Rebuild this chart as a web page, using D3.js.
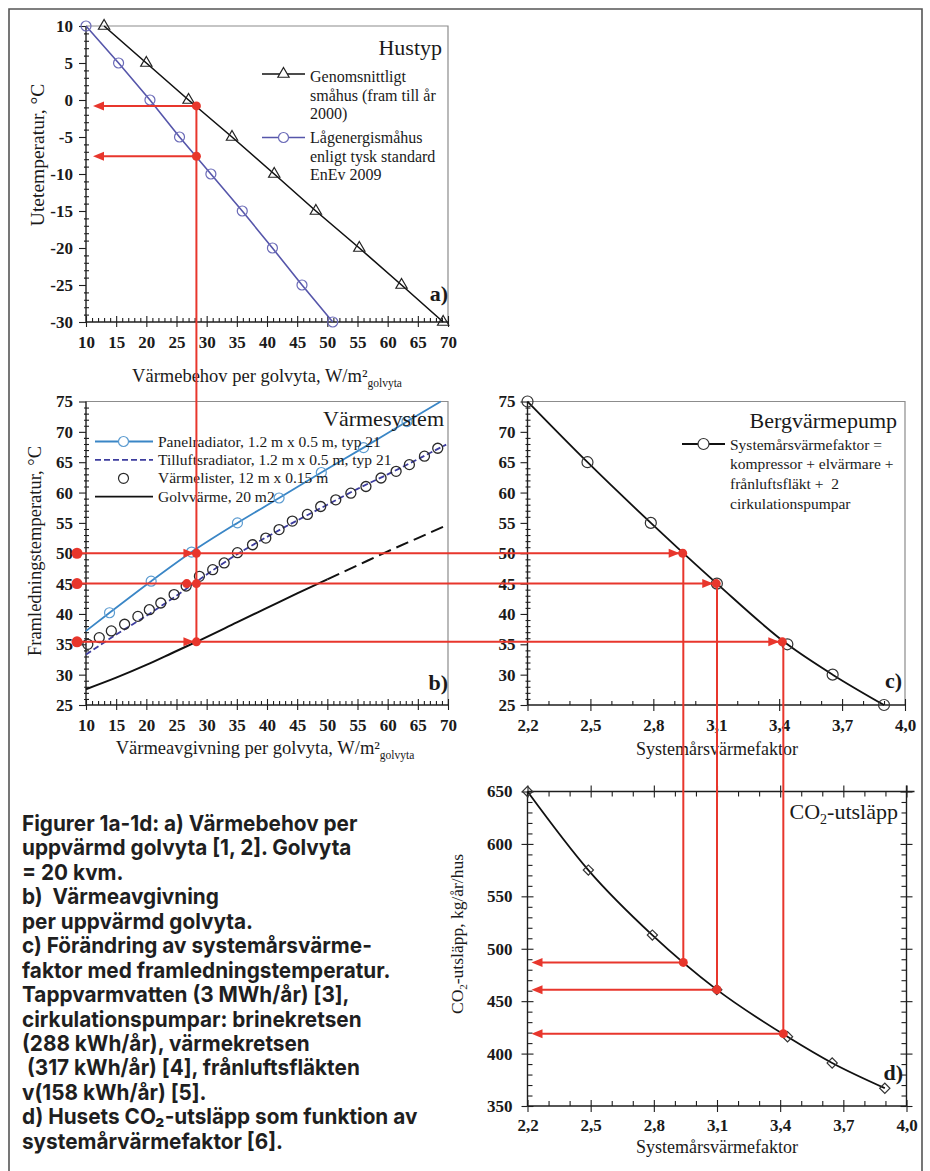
<!DOCTYPE html>
<html><head><meta charset="utf-8">
<script src="https://cdn.jsdelivr.net/npm/d3@7"></script>
<style>body{margin:0;background:#fff}svg{display:block}text{white-space:pre}</style>
</head><body>
<script>
// ================= DATA =================
// Panel a – Hustyp
const aXTicks = [10,15,20,25,30,35,40,45,50,55,60,65,70];
const aYTicks = [10,5,0,-5,-10,-15,-20,-25,-30];
const smahusX = [13.0,20.0,27.0,34.2,41.2,48.1,55.3,62.3,69.2];
const smahusY = [10,5,0,-5,-10,-15,-20,-25,-30];
const lagenergiX = [10.0,15.4,20.6,25.5,30.7,35.9,40.9,45.8,50.9];
const lagenergiY = [10,5,0,-5,-10,-15,-20,-25,-30];
// Panel b – Värmesystem
const bXTicks = [10,15,20,25,30,35,40,45,50,55,60,65,70];
const bYTicks = [25,30,35,40,45,50,55,60,65,70,75];
const panelX = [10,13.9,20.8,27.5,35.1,42.0,49.0,56.0,63.2,68.8];
const panelY = [37.2,40.2,45.4,50.2,55.0,59.1,63.3,67.4,71.7,75.0];
const tilluftX = [10,15,20,25,30,35,40,45,50,55,60,65,69.7];
const tilluftY = [33.3,36.6,39.7,43.0,46.5,49.8,52.7,55.4,58.0,60.6,63.0,65.5,67.9];
const listerX = [10.3,12.2,14.2,16.4,18.6,20.5,22.4,24.6,26.6,28.8,31.0,32.9,35.1,37.6,39.8,42.0,44.2,46.7,48.9,51.4,53.9,56.4,58.9,61.4,63.6,66.1,68.3];
const listerY = [35.0,36.1,37.2,38.3,39.6,40.7,41.8,43.2,44.6,46.2,47.3,48.4,50.1,51.4,52.5,53.9,55.3,56.4,57.7,58.8,59.9,61.0,62.4,63.5,64.6,66.0,67.3];
const golvX = [10,15,20,25,28.3,35,40,45,50,55,60,65,70];
const golvY = [27.6,29.5,31.6,33.9,35.4,38.6,41.0,43.4,45.7,48.0,50.3,52.5,54.7];
const golvSolidUntil = 50;
// Panel c – Bergvärmepump
const cXTicks = [2.2,2.5,2.8,3.1,3.4,3.7,4.0];
const cXTickLabels = ["2,2","2,5","2,8","3,1","3,4","3,7","4,0"];
const cYTicks = [25,30,35,40,45,50,55,60,65,70,75];
const spfX = [2.2,2.486,2.788,3.103,3.439,3.655,3.9];
const spfY = [75,65,55,45,35,30,25];
// Panel d – CO2-utsläpp
const dYTicks = [350,400,450,500,550,600,650];
const co2X = [2.2,2.489,2.793,3.099,3.435,3.647,3.897];
const co2Y = [650,575,513,461,416,391,367];
// Red reading example
const exHeatDemand = 28.3;
const exOutdoorTemp = [-0.8,-7.6];
const exSupplyTemp = [50,45,35.4];
const exTilluftHit = 26.7;
const exSPF = [2.94,3.10,3.415];
const exCO2 = [487,461,419];

const captionLines = [
 "Figurer 1a-1d: a) Värmebehov per",
 "uppvärmd golvyta [1, 2]. Golvyta",
 "= 20 kvm.",
 "b)  Värmeavgivning",
 "per uppvärmd golvyta.",
 "c) Förändring av systemårsvärme-",
 "faktor med framledningstemperatur.",
 "Tappvarmvatten (3 MWh/år) [3],",
 "cirkulationspumpar: brinekretsen",
 "(288 kWh/år), värmekretsen",
 " (317 kWh/år) [4], frånluftsfläkten",
 "v(158 kWh/år) [5].",
 "d) Husets CO₂-utsläpp som funktion av",
 "systemårvärmefaktor [6]."
];

// ================= DRAWING =================
const W = 930, H = 1171;
const RED = "#e8362c";
const serif = "'Liberation Serif','Times New Roman',serif";
const svg = d3.select("body").append("svg").attr("width", W).attr("height", H);
svg.append("rect").attr("width", W).attr("height", H).attr("fill", "#fff");
svg.append("path").attr("d", `M9,${H}V9H922V${H}`).attr("fill","none").attr("stroke","#555").attr("stroke-width",1.6);

const xAB = d3.scaleLinear().domain([10,70]).range([86,448]);
const yA = d3.scaleLinear().domain([-30,10]).range([322,26]);
const yB = d3.scaleLinear().domain([25,75]).range([705,401.5]);
const xC = d3.scaleLinear().domain([2.2,4.0]).range([527.5,905]);
const yC = yB;
const xD = d3.scaleLinear().domain([2.2,4.0]).range([527.5,906.5]);
const yD = d3.scaleLinear().domain([350,650]).range([1106,791.5]);

function axisSet(kind, scale, pos, majors, minors, o) {
  const maker = {left:d3.axisLeft,right:d3.axisRight,top:d3.axisTop,bottom:d3.axisBottom}[kind];
  const vert = (kind === "left" || kind === "right");
  const g = svg.append("g").attr("transform", vert ? `translate(${pos},0)` : `translate(0,${pos})`);
  const add = (vals, size, fmt, pad) => {
    const s = g.append("g").call(maker(scale).tickValues(vals).tickSize(size).tickSizeOuter(0)
      .tickPadding(pad || 3).tickFormat(fmt || (() => "")));
    s.attr("font-family", null).attr("font-size", null);
    s.select(".domain").remove();
    s.selectAll("line").attr("stroke", o.col || "#1e1e1e").attr("stroke-width", 1.1);
    return s;
  };
  if (minors) { if (o.minOut) add(minors, o.minOut); if (o.minIn) add(minors, -o.minIn); }
  if (o.majIn) add(majors, -o.majIn);
  const lab = add(majors, o.majOut || 0, o.fmt, o.pad);
  lab.selectAll("text").attr("font-family", serif).attr("font-size", o.fs || 17)
    .attr("font-weight", "bold").attr("fill", "#1a1a1a");
  const r = scale.range();
  const ext = o.ext || 0;
  if (vert) g.append("line").attr("y1", r[0]).attr("y2", r[1] - ext).attr("stroke", o.col || "#1e1e1e").attr("stroke-width", o.sw || 1.4);
  else g.append("line").attr("x1", r[0]).attr("x2", r[1] + ext).attr("stroke", o.col || "#1e1e1e").attr("stroke-width", o.sw || 1.4);
  return g;
}
function frame(xs, ys) {
  const [x0, x1] = xs.range(), [y0, y1] = ys.range();
  svg.append("path").attr("d", `M${x0},${y1}H${x1}V${y0}`).attr("fill","none")
    .attr("stroke","#8c8c8c").attr("stroke-width",1.2);
}
function txt(x, y, s, o) {
  const t = svg.append("text").attr("x", x).attr("y", y).text(s)
    .attr("font-family", serif).attr("font-size", o.fs || 16).attr("fill", o.fill || "#1a1a1a")
    .attr("text-anchor", o.anchor || "start").attr("font-weight", o.fw || "normal");
  if (o.rot) t.attr("transform", `rotate(-90,${x},${y})`);
  return t;
}
const numFmt = d => String(d);
const minorsAB = d3.range(10, 70.001, 1).filter(v => v % 5 !== 0);

// ---------- Panel a ----------
frame(xAB, yA);
axisSet("left", yA, xAB.range()[0], aYTicks, d3.range(-30, 10.001, 1).filter(v => v % 5 !== 0),
  {majOut: 7, minOut: 2, minIn: 3, pad: 6, fmt: numFmt});
axisSet("bottom", xAB, yA.range()[0], aXTicks, minorsAB, {majOut: 5, majIn: 6, minIn: 4, pad: 9, fmt: numFmt});

const lineA = d3.line().x(d => xAB(d[0])).y(d => yA(d[1]));
svg.append("path").datum(d3.zip(smahusX, smahusY)).attr("d", lineA).attr("fill","none").attr("stroke","#111").attr("stroke-width",1.6);
svg.append("path").datum(d3.zip(lagenergiX, lagenergiY)).attr("d", lineA).attr("fill","none").attr("stroke","#5656aa").attr("stroke-width",1.6);
const tri = d3.symbol(d3.symbolTriangle, 55);
svg.append("g").selectAll("path").data(d3.zip(smahusX, smahusY)).join("path")
  .attr("d", tri).attr("transform", d => `translate(${xAB(d[0])},${yA(d[1])})`)
  .attr("fill","none").attr("stroke","#222").attr("stroke-width",1.2);
svg.append("g").selectAll("circle").data(d3.zip(lagenergiX, lagenergiY)).join("circle")
  .attr("cx", d => xAB(d[0])).attr("cy", d => yA(d[1])).attr("r", 5)
  .attr("fill","none").attr("stroke","#6b6bb8").attr("stroke-width",1.2);

txt(442, 55, "Hustyp", {fs: 22, anchor: "end"});
svg.append("line").attr("x1",262).attr("x2",305).attr("y1",74).attr("y2",74).attr("stroke","#111").attr("stroke-width",1.6);
svg.append("path").attr("d", tri).attr("transform","translate(283.5,74)").attr("fill","#fff").attr("stroke","#222").attr("stroke-width",1.2);
svg.append("line").attr("x1",262).attr("x2",305).attr("y1",137.5).attr("y2",137.5).attr("stroke","#5656aa").attr("stroke-width",1.6);
svg.append("circle").attr("cx",283.5).attr("cy",137.5).attr("r",5).attr("fill","#fff").attr("stroke","#6b6bb8").attr("stroke-width",1.2);
["Genomsnittligt","småhus (fram till år","2000)"].forEach((s,i) => txt(310, 82 + i*18.5, s, {fs: 16}));
["Lågenergismåhus","enligt tysk standard","EnEv 2009"].forEach((s,i) => txt(310, 143 + i*18.7, s, {fs: 16}));
txt(448, 301, "a)", {fs: 22, fw: "bold", anchor: "end"});

const tA = txt(267, 382, "Värmebehov per golvyta, W/m²", {fs: 18.5, anchor: "middle"});
tA.append("tspan").attr("font-size", 11.5).attr("dy", 5).text("golvyta");
txt(44, 155, "Utetemperatur, °C", {fs: 19.5, anchor: "middle", rot: true});

// ---------- Panel b ----------
frame(xAB, yB);
axisSet("left", yB, xAB.range()[0], bYTicks, d3.range(25, 75.001, 1).filter(v => v % 5 !== 0),
  {majOut: 7, minOut: 2, minIn: 3, pad: 6, fmt: numFmt});
axisSet("bottom", xAB, yB.range()[0], bXTicks, minorsAB, {majOut: 5, majIn: 6, minIn: 4, pad: 9, fmt: numFmt});

const lineB = d3.line().x(d => xAB(d[0])).y(d => yB(d[1])).curve(d3.curveMonotoneX);
const golv = d3.zip(golvX, golvY);
svg.append("path").datum(golv.filter(d => d[0] <= golvSolidUntil)).attr("d", lineB).attr("fill","none").attr("stroke","#111").attr("stroke-width",2);
svg.append("path").datum(golv.filter(d => d[0] >= golvSolidUntil)).attr("d", lineB).attr("fill","none").attr("stroke","#111").attr("stroke-width",2).attr("stroke-dasharray","13,6");
svg.append("path").datum(d3.zip(tilluftX, tilluftY)).attr("d", lineB).attr("fill","none").attr("stroke","#3d3d9e").attr("stroke-width",1.8).attr("stroke-dasharray","6,3");
svg.append("path").datum(d3.zip(panelX, panelY)).attr("d", lineB).attr("fill","none").attr("stroke","#3a86c6").attr("stroke-width",1.8);
svg.append("g").selectAll("circle").data(d3.zip(panelX, panelY).filter(d => d[0] > 11 && d[0] < 68)).join("circle")
  .attr("cx", d => xAB(d[0])).attr("cy", d => yB(d[1])).attr("r", 5)
  .attr("fill","none").attr("stroke","#5b9bd0").attr("stroke-width",1.2);
svg.append("g").selectAll("circle").data(d3.zip(listerX, listerY)).join("circle")
  .attr("cx", d => xAB(d[0])).attr("cy", d => yB(d[1])).attr("r", 5)
  .attr("fill","none").attr("stroke","#2a2a2a").attr("stroke-width",1.3);

txt(444, 426, "Värmesystem", {fs: 22, anchor: "end"});
const legB = [
  {t: "Panelradiator, 1.2 m x 0.5 m, typ 21", col: "#3a86c6", dash: null, mk: "#5b9bd0"},
  {t: "Tilluftsradiator, 1.2 m x 0.5 m, typ 21", col: "#3d3d9e", dash: "6,3", mk: null},
  {t: "Värmelister, 12 m x 0.15 m", col: null, dash: null, mk: "#2a2a2a"},
  {t: "Golvvärme, 20 m2", col: "#111", dash: null, mk: null}
];
legB.forEach((e, i) => {
  const y = 441.5 + i * 18.4;
  if (e.col) svg.append("line").attr("x1",95).attr("x2",153).attr("y1",y).attr("y2",y).attr("stroke",e.col)
    .attr("stroke-width",1.8).attr("stroke-dasharray",e.dash);
  if (e.mk) svg.append("circle").attr("cx",123.5).attr("cy",y).attr("r",5).attr("fill","#fff").attr("stroke",e.mk).attr("stroke-width",1.2);
  txt(158, y + 5, e.t, {fs: 15.5});
});
txt(448, 690, "b)", {fs: 22, fw: "bold", anchor: "end"});
const tB = txt(265, 754, "Värmeavgivning per golvyta, W/m²", {fs: 18.5, anchor: "middle"});
tB.append("tspan").attr("font-size", 11.5).attr("dy", 5).text("golvyta");
txt(41, 551, "Framledningstemperatur, °C", {fs: 18.5, anchor: "middle", rot: true});

// ---------- Panel c ----------
frame(xC, yC);
const cMinX = d3.range(22, 40.5, 1).filter(v => (v - 22) % 3 !== 0).map(v => v / 10);
const cFmt = v => cXTickLabels[cXTicks.findIndex(t => Math.abs(t - v) < 1e-9)];
axisSet("left", yC, xC.range()[0], cYTicks, d3.range(25, 75.001, 1).filter(v => v % 5 !== 0),
  {majOut: 7, minOut: 2, minIn: 3, pad: 5, fmt: numFmt});
axisSet("bottom", xC, yC.range()[0], cXTicks, cMinX, {majOut: 6, majIn: 6, minIn: 4, pad: 8, fmt: cFmt});
const lineC = d3.line().x(d => xC(d[0])).y(d => yC(d[1])).curve(d3.curveMonotoneX);
svg.append("path").datum(d3.zip(spfX, spfY)).attr("d", lineC).attr("fill","none").attr("stroke","#111").attr("stroke-width",1.8);
svg.append("g").selectAll("circle").data(d3.zip(spfX, spfY)).join("circle")
  .attr("cx", d => xC(d[0])).attr("cy", d => yC(d[1])).attr("r", 5.5)
  .attr("fill","none").attr("stroke","#333").attr("stroke-width",1.2);
txt(897, 428, "Bergvärmepump", {fs: 22, anchor: "end"});
svg.append("line").attr("x1",682).attr("x2",725).attr("y1",444).attr("y2",444).attr("stroke","#111").attr("stroke-width",1.8);
svg.append("circle").attr("cx",703.5).attr("cy",444).attr("r",5.5).attr("fill","#fff").attr("stroke","#333").attr("stroke-width",1.2);
["Systemårsvärmefaktor =","kompressor + elvärmare +","frånluftsfläkt +  2","cirkulationspumpar"]
  .forEach((s,i) => txt(730, 449.5 + i*19.8, s, {fs: 15.5}));
txt(902, 688, "c)", {fs: 22, fw: "bold", anchor: "end"});
txt(717, 755, "Systemårsvärmefaktor", {fs: 18, anchor: "middle"});

// ---------- Panel d ----------
const dMinY = d3.range(350, 650.001, 10).filter(v => v % 50 !== 0);
axisSet("left", yD, xD.range()[0], dYTicks, dMinY, {majOut: 6, majIn: 6, minIn: 5, pad: 9, fmt: numFmt});
axisSet("right", yD, xD.range()[1], dYTicks, dMinY, {majOut: 6, majIn: 6, minIn: 5, pad: 4, fmt: () => "", ext: 6});
axisSet("bottom", xD, yD.range()[0], cXTicks, cMinX, {majOut: 6, majIn: 6, minIn: 5, pad: 7, fmt: cFmt});
axisSet("top", xD, yD.range()[1], cXTicks, cMinX, {majOut: 6, majIn: 6, minIn: 5, pad: 4, fmt: () => "", ext: 8});
const lineD = d3.line().x(d => xD(d[0])).y(d => yD(d[1])).curve(d3.curveMonotoneX);
svg.append("path").datum(d3.zip(co2X, co2Y)).attr("d", lineD).attr("fill","none").attr("stroke","#111").attr("stroke-width",1.8);
const dia = d3.symbol(d3.symbolSquare, 52);
svg.append("g").selectAll("path").data(d3.zip(co2X, co2Y)).join("path")
  .attr("d", dia).attr("transform", d => `translate(${xD(d[0])},${yD(d[1])}) rotate(45)`)
  .attr("fill","#fff").attr("fill-opacity",0).attr("stroke","#333").attr("stroke-width",1.2);
const tD = txt(898, 819, "CO", {fs: 22, anchor: "end"});
tD.append("tspan").attr("font-size", 14).attr("dy", 5).text("2");
tD.append("tspan").attr("dy", -5).text("-utsläpp");
txt(903, 1080, "d)", {fs: 22, fw: "bold", anchor: "end"});
txt(717, 1153, "Systemårsvärmefaktor", {fs: 18, anchor: "middle"});
const tDy = txt(463, 934, "CO", {fs: 17.5, anchor: "middle", rot: true});
tDy.append("tspan").attr("font-size", 11).attr("dy", 4).text("2");
tDy.append("tspan").attr("dy", -4).text("-utsläpp, kg/år/hus");

// ---------- Red reading example ----------
const red = svg.append("g");
const rline = (x1,y1,x2,y2) => red.append("line").attr("x1",x1).attr("y1",y1).attr("x2",x2).attr("y2",y2)
  .attr("stroke",RED).attr("stroke-width",2);
const rdot = (x,y,r) => red.append("circle").attr("cx",x).attr("cy",y).attr("r",r||4.5).attr("fill",RED);
const rarrow = (x,y,dir) => red.append("path").attr("d",`M${x},${y}l${-11*dir},-4.5v9z`).attr("fill",RED);
const hx = xAB(exHeatDemand);
rline(hx, yA(exOutdoorTemp[0]), hx, yB(exSupplyTemp[2]));
exOutdoorTemp.forEach(t => {
  const y = yA(t), xl = xAB.range()[0] + 7;
  rline(hx, y, xl + 8, y); rarrow(xl, y, -1); rdot(hx, y);
});
exSupplyTemp.forEach((t, i) => {
  const y = yB(t), xl = xAB.range()[0] - 9, xs = xC(exSPF[i]);
  rline(xl, y, xs, y);
  rdot(xl, y, 5.5);
  rdot(hx, y);
  if (i === 1) rdot(xAB(exTilluftHit), y); else rarrow(hx - 2, y, 1);
  rarrow(xs - 3, y, 1);
  rdot(xs, y);
  const yd = yD(exCO2[i]), xd = xD(exSPF[i]);
  rline(xd, y, xd, yd);
  rline(xd, yd, xD.range()[0] + 12, yd);
  rarrow(xD.range()[0] + 4, yd, -1);
  rdot(xd, yd);
});

// ---------- Caption ----------
const cap = svg.append("g");
const capNodes = captionLines.map((ln, i) =>
  cap.append("text").attr("x", 0).attr("y", i * 24.45)
    .attr("font-family", "Inter, 'Noto Sans', sans-serif").attr("font-weight", 700)
    .attr("font-size", 22).attr("fill", "#1f1f1f").text(ln));
const w7 = capNodes[6].node().getComputedTextLength();
const w13 = capNodes[12].node().getComputedTextLength();
const sx = ((373 / w7) + (391 / w13)) / 2;
cap.attr("transform", `translate(22,831) scale(${sx},1)`);
</script>
</body></html>
